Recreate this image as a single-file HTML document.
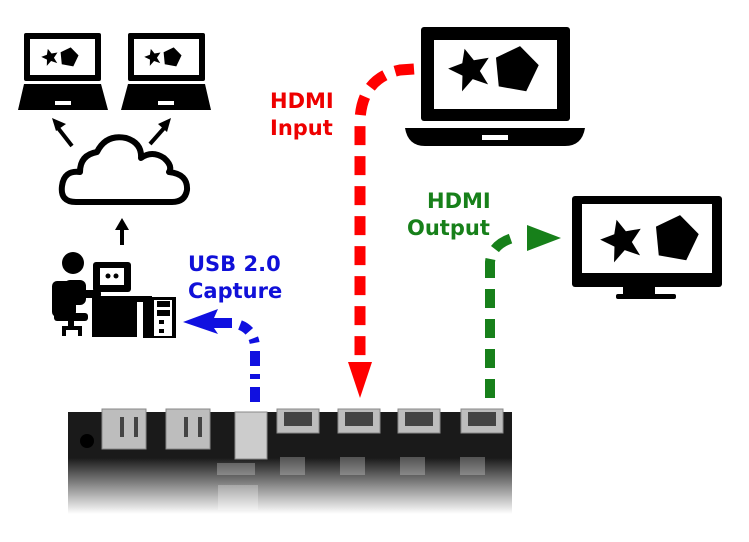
<!DOCTYPE html>
<html><head><style>
html,body{margin:0;padding:0;background:#fff;}
svg{display:block;}
text{font-family:"DejaVu Sans","Liberation Sans",sans-serif;font-weight:bold;font-size:21px;}
</style></head><body>
<svg width="749" height="542" viewBox="0 0 749 542" xmlns="http://www.w3.org/2000/svg">
<defs>
<linearGradient id="fade" x1="0" y1="0" x2="0" y2="1">
<stop offset="0" stop-color="#fff" stop-opacity="0"/>
<stop offset="0.45" stop-color="#fff" stop-opacity="0"/>
<stop offset="1" stop-color="#fff" stop-opacity="1"/>
</linearGradient>
<g id="star"><polygon points="0,-14 4,-5 14,-4 6,3 9,13 0,7 -9,13 -6,3 -14,-4 -4,-5" fill="#000" transform="rotate(-15)"/></g>
<g id="pent"><polygon points="0,-15 14,-5 9,13 -9,13 -14,-5" fill="#000" transform="rotate(10)"/></g>
</defs>

<g>
<rect x="24" y="33" width="77" height="48" rx="2" fill="#000"/>
<rect x="30" y="39" width="65" height="36" fill="#fff"/>
<use href="#star" transform="translate(50,57) scale(0.6)"/>
<use href="#pent" transform="translate(69,57) scale(0.65)"/>
<polygon points="24,84 101,84 108,110 18,110" fill="#000"/>
<rect x="55" y="101" width="16" height="4" fill="#fff"/>
<rect x="128" y="33" width="77" height="48" rx="2" fill="#000"/>
<rect x="134" y="39" width="65" height="36" fill="#fff"/>
<use href="#star" transform="translate(153,57) scale(0.6)"/>
<use href="#pent" transform="translate(172,57) scale(0.65)"/>
<polygon points="128,84 205,84 211,110 121,110" fill="#000"/>
<rect x="158" y="101" width="16" height="4" fill="#fff"/>
</g>
<g stroke="#000" stroke-width="4" fill="none">
<line x1="72" y1="146" x2="58" y2="128"/>
<line x1="150" y1="144" x2="165" y2="127"/>
<line x1="122" y1="245" x2="122" y2="228"/>
</g>
<polygon points="52,118 66,124 56,131" fill="#000"/>
<polygon points="171,118 167,132 158,124" fill="#000"/>
<polygon points="122,218 129,230 115,230" fill="#000"/>
<path d="M76,202 Q60,202 62,186 Q64,170 80,172 Q80,155 97,152 Q106,134 126,138 Q142,143 141,158 Q152,150 164,158 Q173,166 169,172 Q188,174 187,190 Q185,202 172,202 Z" fill="#fff" stroke="#000" stroke-width="6" stroke-linejoin="round"/>
<g fill="#000">
<circle cx="73" cy="263" r="11"/>
<rect x="52" y="281" width="24" height="36" rx="5"/>
<rect x="64" y="280" width="22" height="25" rx="6"/>
<rect x="76" y="290" width="25" height="8" rx="3"/>
<rect x="54" y="313" width="34" height="8" rx="3"/>
<rect x="68" y="320" width="6" height="8"/>
<rect x="62" y="326" width="19" height="4"/>
<rect x="62" y="326" width="4" height="10"/>
<rect x="78" y="326" width="4" height="10"/>
<rect x="93" y="262" width="38" height="30" rx="3"/>
<rect x="92" y="297" width="45" height="40"/>
<rect x="92" y="296" width="60" height="6"/>
<rect x="143" y="297" width="33" height="41"/>
</g>
<rect x="100" y="268" width="24" height="17" fill="#fff"/>
<circle cx="108" cy="276" r="2.5" fill="#000"/><circle cx="116" cy="276" r="2.5" fill="#000"/>
<rect x="154" y="300" width="18" height="36" fill="#fff"/>
<rect x="157" y="301" width="13" height="6" fill="#000"/>
<rect x="157" y="310" width="13" height="6" fill="#000"/>
<rect x="159" y="320" width="5" height="4" fill="#000"/>
<rect x="159" y="329" width="5" height="4" fill="#000"/>
<rect x="143" y="297" width="10" height="41" fill="#000"/>

<text x="270" y="108" fill="#e00">HDMI</text>
<text x="270" y="135" fill="#e00">Input</text>
<text x="427" y="208" fill="#17801a">HDMI</text>
<text x="407" y="235" fill="#17801a">Output</text>
<text x="188" y="271" fill="#1010d8">USB 2.0</text>
<text x="188" y="298" fill="#1010d8">Capture</text>

<rect x="421" y="27" width="149" height="94" rx="3" fill="#000"/>
<rect x="434" y="40" width="123" height="69" fill="#fff"/>
<use href="#star" transform="translate(470,69) scale(1.5)"/>
<use href="#pent" transform="translate(516,69) scale(1.55)"/>
<path d="M405,128 L585,128 Q582,146 565,146 L425,146 Q408,146 405,128 Z" fill="#000"/>
<rect x="482" y="135" width="26" height="5" fill="#fff"/>

<rect x="572" y="196" width="150" height="91" rx="3" fill="#000"/>
<rect x="582" y="204" width="130" height="69" fill="#fff"/>
<use href="#star" transform="translate(622,240) scale(1.5)"/>
<use href="#pent" transform="translate(676,238) scale(1.55)"/>
<rect x="623" y="286" width="32" height="10" fill="#000"/>
<rect x="616" y="294" width="60" height="5" rx="2" fill="#000"/>

<path d="M414,69 L400,70 Q362,78 360,120 L360,362" fill="none" stroke="#f00" stroke-width="11" stroke-dasharray="19,11"/>
<polygon points="348,362 372,362 360,398" fill="#f00"/>
<path d="M490,398 L490,262 Q492,243 516,237" fill="none" stroke="#17801a" stroke-width="10" stroke-dasharray="19,11"/>
<polygon points="527,225 561,238 527,251" fill="#17801a"/>
<path d="M255,402 L255,345 Q253,330 240,325" fill="none" stroke="#1010e0" stroke-width="10" stroke-dasharray="15,8,5,8"/>
<polygon points="183,322 218,309 214,318 232,318 232,328 214,328 218,334" fill="#1010e0"/>

<rect x="68" y="412" width="444" height="102" fill="#1a1a1a"/>
<g fill="#bdbdbd" stroke="#888" stroke-width="1">
<rect x="102" y="409" width="44" height="40"/>
<rect x="166" y="409" width="44" height="40"/>
<rect x="235" y="412" width="32" height="47" fill="#ccc"/>
<rect x="277" y="409" width="42" height="24"/>
<rect x="338" y="409" width="42" height="24"/>
<rect x="398" y="409" width="42" height="24"/>
<rect x="461" y="409" width="42" height="24"/>
</g>
<g fill="#444">
<rect x="120" y="417" width="4" height="20"/><rect x="134" y="417" width="4" height="20"/>
<rect x="184" y="417" width="4" height="20"/><rect x="198" y="417" width="4" height="20"/>
<rect x="284" y="412" width="28" height="14"/><rect x="345" y="412" width="28" height="14"/>
<rect x="405" y="412" width="28" height="14"/><rect x="468" y="412" width="28" height="14"/>
</g>
<g fill="#555">
<rect x="280" y="457" width="25" height="18"/><rect x="340" y="457" width="25" height="18"/>
<rect x="400" y="457" width="25" height="18"/><rect x="460" y="457" width="25" height="18"/>
<rect x="217" y="463" width="38" height="12"/>
<rect x="218" y="485" width="40" height="25"/>
</g>
<circle cx="87" cy="441" r="7" fill="#000"/>
<rect x="68" y="412" width="444" height="102" fill="url(#fade)"/>
</svg>
</body></html>
